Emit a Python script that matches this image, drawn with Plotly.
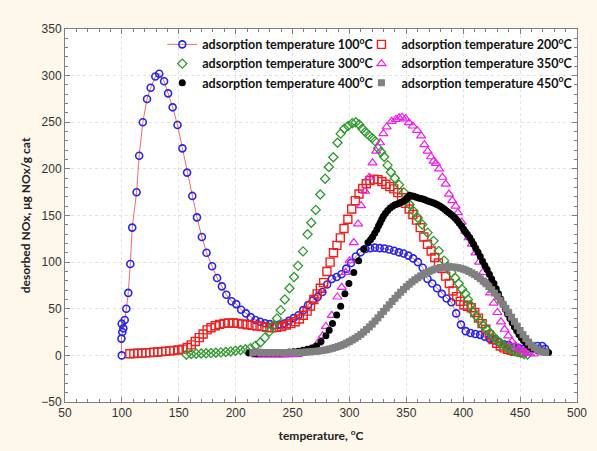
import plotly.graph_objects as go

# ---------------- data ----------------
t100 = [99.9, 99.6, 100.4, 101.3, 99.8, 102.5, 103.9, 105.6, 107.4, 109.1, 112.9, 115.2, 118.4, 122.1, 125.3, 129.4,
        132.8, 137.1, 140.6, 144.6, 148.9, 153.2, 157.3, 161.9, 166.0, 170.3, 174.4, 179.3, 183.7, 187.9, 191.8,
        196.4, 200.5, 204.8, 209.0, 213.2, 217.4, 221.6, 225.8, 230.0, 234.2, 238.4, 242.6, 246.8, 251.0, 255.2,
        259.4, 263.6, 267.8, 272.0, 276.2, 280.4, 284.6, 288.8, 293.0, 297.2, 301.4, 305.6, 309.8, 314.0, 318.2,
        322.4, 326.6, 330.8, 335.0, 339.2, 343.4, 347.6, 351.8, 356.0, 360.2, 364.4, 368.6, 372.8, 377.0, 381.2,
        385.4, 389.6, 393.8, 398.0, 402.2, 406.4, 410.6, 414.8, 419.0, 423.2, 427.4, 431.6, 435.8, 440.0, 444.2,
        448.4, 452.6, 456.8, 461.0, 465.2, 469.4, 472.0]
y100 = [0, 18, 25, 29, 34, 38, 50, 67, 98, 137, 175, 214, 250, 275, 287, 299,
        302, 294, 281, 266, 247, 222, 196, 171, 148, 127, 110, 95.5, 83, 74, 65,
        58, 55, 49, 45, 41, 38, 36, 34.5, 33.5, 32.5, 33, 34, 37, 40, 43,
        48.5, 54, 59, 62.6, 68, 76, 82, 84, 87, 93, 99, 106, 110.5, 114, 115,
        115.5, 115, 114.6, 113.6, 112.2, 110.5, 109.3, 107, 104, 100, 94, 82, 77, 72, 66,
        61, 57, 45, 33, 26, 24, 23, 22, 20, 18, 16, 14, 12, 11, 9,
        8, 7, 7, 8, 10, 10, 7]

t200 = [107, 110.5, 114, 117.5, 121, 124.5, 128, 131.5, 135, 138.5, 142, 145.5, 149.5, 153.6, 157.6, 161,
        164.5, 168, 171.4, 174.9, 178.3, 182.1, 185.9, 189.9, 193.9, 198, 202, 206, 210.1, 214.4, 218.7,
        223.1, 227.4, 231.7, 236, 240.4, 244.5, 248.5, 252.3, 256, 259.5, 262.8, 265.8, 268.7, 271.6, 274.4,
        277.3, 280.2, 283, 286, 289, 292, 295.2, 298.6, 302, 305.2, 308.4, 311.6, 314.8, 318, 321.5, 325,
        328.5, 332, 335.5, 339, 342.5, 345.8, 349.2, 352.5, 355.8, 359, 362.2, 365.4, 368.6, 371.8, 375,
        378.2, 381.4, 384.6, 387.8, 391, 394.2, 397.4, 400.6, 403.8, 407, 410.2, 413.4, 416.6, 419.8, 423,
        426.2, 429.4, 432.6, 435.8, 439, 442.2, 445.4, 448.6, 451.8]
y200 = [1.8, 2, 2.2, 2.4, 2.7, 3, 3.3, 3.6, 4, 4.4, 4.8, 5.2, 5.8, 6.7, 8.5, 11.3,
        14.9, 19, 23, 27.3, 29.7, 31.8, 33.2, 34.3, 34.7, 34.7, 34.3, 33.6, 32.9, 32.2, 31.5,
        30.8, 30, 29.7, 30, 31, 32.5, 34, 36, 39, 43, 47.5, 53, 60, 66, 72,
        78, 90, 100, 110, 118, 126, 136, 146, 157, 166, 173, 179, 184, 187.5, 189, 188.5,
        186.5, 183.5, 181, 178.5, 174.5, 169, 163, 157, 151, 145, 137, 127, 119, 112, 105,
        99, 93, 85, 77, 69, 63, 58, 54, 52.5, 51, 46, 40, 34, 28, 22,
        17, 13, 10, 8, 6.5, 5.5, 4.5, 4, 3.5]

t300 = [156.7, 161, 165.3, 169.7, 174, 178.3, 182.6, 187, 191.3, 195.6, 199.9, 204.3, 208.6, 213, 217.3,
        221.6, 225.6, 229.6, 233, 236.3, 239.6, 243.2, 247.3, 251.3, 254.8, 259.2, 263.2, 266.4, 270.4,
        274.3, 278.6, 281.9, 285.8, 289.5, 292.3, 295.5, 298.8, 302.5, 305.5, 308.5, 311.3, 314, 317, 320,
        322.6, 325.2, 327.8, 330.5, 333.5, 336.4, 339.9, 343.6, 347.9, 350.4, 352.9, 356.3, 360.1, 363.9,
        368.7, 373.9, 378.5, 383.2, 386.5, 389.5, 393, 396.1, 399, 401.9, 404.2, 406.2, 408.5, 411.5, 414.5,
        417.5, 420.5, 423.5, 426.5, 429.5, 432.5, 435.5, 438.5, 441.5, 444.5, 447.5, 450.5, 453.5, 456.5]
y300 = [0.7, 1.5, 1.8, 2, 2.2, 2.5, 2.8, 3.2, 3.6, 4.2, 5, 5.8, 6.5, 7.7, 10.2,
        13.8, 19, 25.5, 32, 39.6, 48.5, 60, 72, 84, 96, 111.5, 129.8, 142.3, 156,
        172.5, 189.5, 202, 212.5, 228, 237.8, 243, 246, 249, 250, 247.5, 243, 239.5, 236, 233,
        229.5, 222, 218, 213, 204, 196.4, 190, 182.9, 174.8, 168, 161.7, 154.7, 147.6, 140.4,
        131.6, 122.8, 112, 101.6, 95, 89, 83, 77, 71, 66, 60, 54, 47, 42, 37,
        32, 28, 24, 20, 16.5, 13.5, 11, 8.5, 6.5, 5, 3.5, 2.5, 1.5, 1]

t350 = [218, 222, 226, 230, 234.6, 238.5, 242.5, 246.5, 250.5, 254.5, 258, 261.5, 264.9, 268.3, 272.1,
        276.5, 279.3, 284.5, 289.4, 293.2, 296.6, 300.1, 303.8, 307.6, 310.2, 313.8, 317.4, 320.3, 323.5,
        327, 329.8, 332.7, 337.1, 340.8, 343.6, 346.2, 349.4, 352.3, 355.7, 359.5, 363, 365.9, 368.7,
        371.7, 373.9, 376, 378.8, 381.7, 384.6, 387.5, 390.4, 393.3, 395.3, 398.6, 401.9, 404.8, 407.6,
        410.8, 414, 417.2, 420.4, 423.6, 426.8, 430, 433.2, 436.4, 439.6, 442.8, 446, 449.2, 452.4,
        455.6, 458.8, 462]
y350 = [0.5, 0.5, 0.5, 0.5, 0.5, 0.5, 0.6, 0.7, 0.8, 1, 2, 3.5, 5, 7.7, 13,
        21, 31, 43, 62.6, 73, 89, 101.5, 121, 141, 160.5, 176, 191, 206.5, 219,
        228, 237.8, 245, 251, 253, 254.8, 255.5, 253.7, 249.5, 246, 241.3, 235.4, 226, 219,
        213, 208.3, 206, 200, 191, 183.7, 173, 166, 160, 153, 143, 133.3, 126.3, 119.2,
        110, 100, 89, 78, 67, 56, 46, 36, 28, 21, 15, 10, 7, 5,
        3, 2, 1.5]

t400 = [211.6, 213.5, 215.5, 217.5, 219.5, 223, 227, 231, 235, 239, 243, 247, 251, 255, 259, 263, 267, 271,
        275, 279.3, 282.2, 285.1, 288.8, 292.3, 296, 299.5, 303.8, 308.1, 312.5, 316.3, 318.5, 320.3, 322.2,
        324.1, 325.6, 327, 328.4, 329.8, 331.7, 333.6, 335.8, 337.9, 340, 342.2, 344, 345.7, 347.5, 349.4,
        351, 352.9, 354.8, 356.6, 358.7, 360.7, 362.5, 364.4, 366.3, 368.2, 370.2, 372.2, 374.1, 376, 377.8,
        379.7, 381.8, 383.8, 385.6, 387.5, 389.3, 391.2, 393, 394.7, 396.6, 398.5, 400.2, 401.9, 403.8, 405.7,
        407.4, 409.1, 411, 413, 415, 417, 419, 421, 423, 425, 427, 429, 431, 433, 435, 437, 439, 441, 443,
        445, 447, 449, 451, 453, 455, 457, 459, 461, 463, 465, 467, 469, 471, 473, 475]
y400 = [2.5, 3, 2.5, 2, 2.5, 2.5, 2.5, 2.5, 2.5, 2.5, 3, 3.5, 4, 4.5, 5.5, 6.5, 8, 10,
        15, 21, 27, 34.3, 43.2, 52.7, 66, 77, 89, 101.5, 114, 121, 124, 127, 131,
        135, 139, 142.3, 146, 149.3, 152.5, 155.3, 158, 160, 161.5, 162.4, 163.5, 164.2, 165.5, 167,
        169, 171.7, 171, 170.6, 169.7, 168.8, 168.2, 167.7, 166.8, 165.9, 165, 164.2, 163.3, 162.4, 161.3,
        160, 158.2, 156.4, 154.6, 152.9, 151, 149.3, 147, 144.7, 141.7, 138.7, 135.5, 132.4, 129.3, 126.3,
        122.7, 119.2, 115, 110.5, 106, 101, 96.5, 92, 87, 82, 77, 71.5, 66, 60.5, 55, 49.5, 44.5, 39.5, 35,
        30.5, 26.5, 22.5, 19, 16, 13.5, 11, 9, 7.5, 6.5, 5.5, 5, 4.5, 4, 3.5, 3]

t450 = [215, 217.5, 220, 222.5, 225, 227.5, 230, 232.5, 235, 237.5, 240, 242.5, 245, 247.5, 250, 252.5, 255,
        257.5, 260, 262.5, 265, 267.5, 270, 272.5, 275, 277.5, 280, 282.5, 285, 287.5, 290, 292.5, 295, 297.5,
        300, 302.5, 305, 307.5, 310, 312.5, 315, 317.5, 320, 322.5, 325, 327.5, 330, 332.5, 335, 337.5, 340,
        342.5, 345, 347.5, 350, 352.5, 355, 357.5, 360, 362.5, 365, 367.5, 370, 372.5, 375, 377.5, 380, 382.5,
        385, 387.5, 390, 392.5, 395, 397.5, 400, 402.5, 405, 407.5, 410, 412.5, 415, 417.5, 420, 422.5, 425,
        427.5, 430, 432.5, 435, 437.5, 440, 442.5, 445, 447.5, 450, 452.5, 455, 457.5, 460, 462.5, 465, 467.5,
        470, 472.5]
y450 = [3, 4, 3.5, 3, 3, 3, 3, 3, 3, 3, 3, 3, 3, 3, 3, 3, 3,
        3.2, 3.4, 3.6, 3.8, 4, 4.3, 4.6, 5, 5.5, 6, 6.8, 7.6, 8.5, 9.5, 10.5, 11.8, 13.2,
        14.8, 16.5, 18.3, 20.3, 22.5, 25, 27.7, 30.5, 33.5, 36.8, 40.2, 43.7, 47.2, 50.8, 54.3, 57.8, 61.2,
        64.5, 67.7, 70.7, 73.6, 76.3, 78.8, 81.1, 83.2, 85.2, 87, 88.6, 90, 91.3, 92.4, 93.3, 94, 94.5,
        94.8, 95, 94.9, 94.6, 94.1, 93.4, 92.5, 91.4, 90, 88.4, 86.6, 84.5, 82.2, 79.6, 76.8, 73.7, 70.4,
        66.8, 63, 59, 54.8, 50.4, 45.8, 41, 36.2, 31.4, 26.7, 22.2, 18, 14.2, 10.9, 8.2, 6.1, 4.6,
        3.6, 3]

names = ["adsorption temperature 100<sup>o</sup>C", "adsorption temperature 200<sup>o</sup>C",
         "adsorption temperature 300<sup>o</sup>C", "adsorption temperature 350<sup>o</sup>C",
         "adsorption temperature 400<sup>o</sup>C", "adsorption temperature 450<sup>o</sup>C"]

x_ticks = [50, 100, 150, 200, 250, 300, 350, 400, 450, 500]
y_ticks = [-50, 0, 50, 100, 150, 200, 250, 300, 350]

fig = go.Figure()

fig.add_trace(go.Scatter(x=t100, y=y100, name=names[0], mode="lines+markers", legend="legend",
                         line=dict(color="#F26B6B", width=1),
                         marker=dict(symbol="circle-open", size=7, color="#2626E6", line=dict(width=1.6))))
fig.add_trace(go.Scatter(x=t200, y=y200, name=names[1], mode="markers", legend="legend2",
                         marker=dict(symbol="square-open", size=8, color="#F01E1E", line=dict(width=1.4))))
fig.add_trace(go.Scatter(x=t300, y=y300, name=names[2], mode="markers", legend="legend",
                         marker=dict(symbol="diamond-open", size=7, color="#2E9A2E", line=dict(width=1.3))))
fig.add_trace(go.Scatter(x=t350, y=y350, name=names[3], mode="markers", legend="legend2",
                         marker=dict(symbol="triangle-up-open", size=8, color="#F01EF0", line=dict(width=1.2))))
fig.add_trace(go.Scatter(x=t400, y=y400, name=names[4], mode="markers", legend="legend",
                         marker=dict(symbol="circle", size=7, color="#000000")))
fig.add_trace(go.Scatter(x=t450, y=y450, name=names[5], mode="markers", legend="legend2",
                         marker=dict(symbol="square", size=7, color="#808080")))

axis_common = dict(
    showline=True, linecolor="#7F7F7F", linewidth=1, mirror="ticks",
    ticks="inside", ticklen=5, tickcolor="#7F7F7F",
    showgrid=True, gridcolor="#E2E2E2", griddash="dot", gridwidth=1,
    zeroline=False,
    tickfont=dict(family="Liberation Sans, Arial", size=12, color="#333333"),
)

fig.update_xaxes(range=[50, 500], tickvals=x_ticks,
                 minor=dict(dtick=10, ticks="inside", ticklen=3, tickcolor="#7F7F7F", showgrid=False),
                 title=dict(text="temperature, <sup>o</sup>C",
                            font=dict(family="Lato", size=12, color="#222222", weight="bold"), standoff=12),
                 **axis_common)
fig.update_yaxes(range=[-50, 350], tickvals=y_ticks,
                 minor=dict(dtick=10, ticks="inside", ticklen=3, tickcolor="#7F7F7F", showgrid=False),
                 title=dict(text="desorbed NOx, μg NOx/g cat",
                            font=dict(family="Lato", size=12, color="#222222", weight="bold"), standoff=8),
                 **axis_common)

# white panel behind the legends (hides grid, stays under the data)
fig.add_shape(type="rect", xref="paper", yref="paper", x0=0.22, x1=0.978, y0=0.83, y1=0.985,
              fillcolor="white", line=dict(width=0), layer="between")

legend_font = dict(family="Lato", size=12.5, color="#111111", weight="bold")
fig.update_layout(
    width=597, height=451,
    margin=dict(l=65, r=10, t=29, b=45),
    paper_bgcolor="#FDF7EC",
    plot_bgcolor="#FFFFFF",
    showlegend=True,
    legend=dict(orientation="v", x=0.19, y=0.998, xanchor="left", yanchor="top",
                bgcolor="rgba(255,255,255,0)", borderwidth=0, font=legend_font,
                itemwidth=30, tracegroupgap=0),
    legend2=dict(orientation="v", x=0.579, y=0.998, xanchor="left", yanchor="top",
                 bgcolor="rgba(255,255,255,0)", borderwidth=0, font=legend_font,
                 itemwidth=30, tracegroupgap=0),
)

fig.write_html("out.html")
